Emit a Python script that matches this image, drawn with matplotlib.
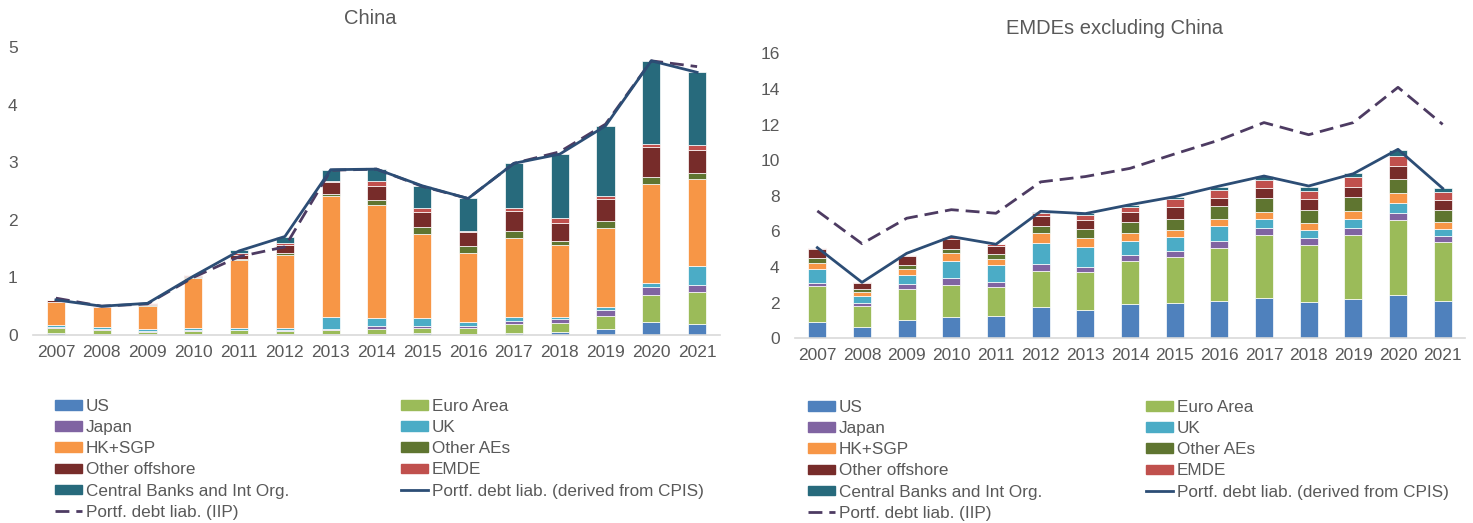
import numpy as np
import matplotlib
matplotlib.use("Agg")
from matplotlib import pyplot as plt
from matplotlib.patches import Patch
from matplotlib.lines import Line2D

plt.rcParams['font.family'] = ['Liberation Sans', 'DejaVu Sans']

years = ['2007', '2008', '2009', '2010', '2011', '2012', '2013', '2014',
         '2015', '2016', '2017', '2018', '2019', '2020', '2021']

# ---- China (USD trn) ----
cn_us   = [0.04, 0.02, 0.01, 0.02, 0.02, 0.01, 0.02, 0.02, 0.04, 0.01, 0.03, 0.05, 0.10, 0.23, 0.19]
cn_ea   = [0.08, 0.07, 0.05, 0.05, 0.06, 0.06, 0.06, 0.08, 0.08, 0.12, 0.16, 0.15, 0.23, 0.46, 0.56]
cn_jp   = [0.02, 0.02, 0.01, 0.01, 0.01, 0.01, 0.02, 0.06, 0.04, 0.03, 0.06, 0.07, 0.10, 0.14, 0.12]
cn_uk   = [0.03, 0.03, 0.04, 0.04, 0.04, 0.04, 0.21, 0.14, 0.14, 0.07, 0.07, 0.05, 0.06, 0.08, 0.32]
cn_hk   = [0.40, 0.34, 0.40, 0.87, 1.17, 1.27, 2.10, 1.96, 1.45, 1.20, 1.37, 1.24, 1.37, 1.72, 1.51]
cn_oae  = [0.01, 0.005, 0.01, 0.01, 0.02, 0.04, 0.04, 0.09, 0.12, 0.11, 0.12, 0.08, 0.12, 0.12, 0.12]
cn_oo   = [0.02, 0.005, 0.02, 0.03, 0.07, 0.13, 0.21, 0.24, 0.26, 0.25, 0.34, 0.31, 0.38, 0.52, 0.40]
cn_emde = [0.01, 0.005, 0.01, 0.01, 0.03, 0.04, 0.01, 0.08, 0.08, 0.02, 0.05, 0.08, 0.05, 0.05, 0.07]
cn_cb   = [0.0, 0.0, 0.0, 0.0, 0.05, 0.10, 0.20, 0.21, 0.38, 0.56, 0.78, 1.11, 1.22, 1.44, 1.27]
cn_cpis = [0.61, 0.50, 0.55, 1.02, 1.46, 1.71, 2.87, 2.88, 2.59, 2.37, 2.98, 3.14, 3.63, 4.76, 4.56]
cn_iip  = [0.64, 0.50, 0.54, 1.00, 1.36, 1.53, 2.86, 2.88, 2.58, 2.37, 2.98, 3.18, 3.66, 4.76, 4.66]

# ---- EMDEs excluding China ----
em_us   = [0.94, 0.65, 1.05, 1.20, 1.27, 1.76, 1.61, 1.93, 2.00, 2.10, 2.28, 2.04, 2.19, 2.45, 2.10]
em_ea   = [2.00, 1.15, 1.70, 1.79, 1.59, 2.04, 2.09, 2.43, 2.55, 2.99, 3.54, 3.22, 3.59, 4.17, 3.33]
em_jp   = [0.18, 0.20, 0.30, 0.42, 0.32, 0.37, 0.32, 0.34, 0.35, 0.39, 0.37, 0.39, 0.41, 0.43, 0.33]
em_uk   = [0.79, 0.38, 0.52, 0.95, 0.94, 1.20, 1.11, 0.75, 0.79, 0.84, 0.49, 0.43, 0.49, 0.57, 0.40]
em_hk   = [0.34, 0.20, 0.32, 0.41, 0.33, 0.54, 0.48, 0.44, 0.39, 0.36, 0.41, 0.38, 0.49, 0.52, 0.37]
em_oae  = [0.28, 0.17, 0.23, 0.26, 0.27, 0.38, 0.51, 0.62, 0.64, 0.73, 0.79, 0.74, 0.78, 0.79, 0.66]
em_oo   = [0.47, 0.34, 0.48, 0.53, 0.46, 0.60, 0.50, 0.60, 0.67, 0.49, 0.58, 0.60, 0.56, 0.76, 0.58]
em_emde = [0.07, 0.07, 0.10, 0.13, 0.10, 0.16, 0.30, 0.28, 0.43, 0.43, 0.43, 0.47, 0.53, 0.56, 0.44]
em_cb   = [0.0, 0.0, 0.0, 0.0, 0.0, 0.06, 0.10, 0.11, 0.13, 0.18, 0.22, 0.24, 0.22, 0.32, 0.21]
em_cpis = [5.09, 3.14, 4.77, 5.71, 5.28, 7.13, 7.00, 7.50, 7.95, 8.55, 9.11, 8.55, 9.24, 10.61, 8.42]
em_iip  = [7.15, 5.31, 6.74, 7.22, 7.02, 8.78, 9.08, 9.54, 10.35, 11.13, 12.11, 11.43, 12.11, 14.09, 12.01]

names = ['US', 'Euro Area', 'Japan', 'UK', 'HK+SGP', 'Other AEs',
         'Other offshore', 'EMDE', 'Central Banks and Int Org.']
colors = ['#4F81BD', '#9BBB59', '#8064A2', '#4BACC6', '#F79646',
          '#5F7530', '#772C2A', '#C0504D', '#276A7C']
cpis_lbl = 'Portf. debt liab. (derived from CPIS)'
iip_lbl = 'Portf. debt liab. (IIP)'
c_cpis = '#2C4D75'
c_iip = '#4D3B62'
grey = '#595959'

W, H = 1473, 523
fig = plt.figure(figsize=(W / 100, H / 100), dpi=100)


def box(x0, y0, x1, y1):
    # pixel box -> figure fraction
    return [x0 / W, 1 - y1 / H, (x1 - x0) / W, (y1 - y0) / H]


def draw(ax, stacks, cpis, iip, ymax, step):
    x = np.arange(len(years))
    bottom = np.zeros(len(years))
    for vals, col in zip(stacks, colors):
        v = np.array(vals)
        ax.bar(x, v, 0.4, bottom=bottom, color=col, edgecolor='white', linewidth=0.5)
        bottom = bottom + v
    ax.plot(x, iip, color=c_iip, lw=2, ls=(0, (5, 2.5)))
    ax.plot(x, cpis, color=c_cpis, lw=2)
    ax.set_xlim(-0.5, len(years) - 0.5)
    ax.set_ylim(0, ymax)
    ax.set_yticks(np.arange(0, ymax + 0.01, step))
    ax.set_xticks(x)
    ax.set_xticklabels(years)
    for s in ['top', 'right', 'left']:
        ax.spines[s].set_visible(False)
    ax.spines['bottom'].set_color('#D9D9D9')
    ax.spines['bottom'].set_linewidth(1.2)
    ax.tick_params(axis='both', length=0, labelsize=12.5, colors=grey)
    ax.tick_params(axis='y', pad=11)
    ax.tick_params(axis='x', pad=7)


def legends(x1, x2, ytop):
    h1 = [Patch(color=colors[i]) for i in (0, 2, 4, 6, 8)]
    h1.append(Line2D([], [], color=c_iip, lw=2, ls=(0, (5, 2.5))))
    l1 = [names[i] for i in (0, 2, 4, 6, 8)] + [iip_lbl]
    h2 = [Patch(color=colors[i]) for i in (1, 3, 5, 7)]
    h2.append(Line2D([], [], color=c_cpis, lw=2))
    l2 = [names[i] for i in (1, 3, 5, 7)] + [cpis_lbl]
    for hh, ll, xx in ((h1, l1, x1), (h2, l2, x2)):
        lg = fig.legend(hh, ll, loc='upper left', bbox_to_anchor=(xx / W, 1 - ytop / H),
                        frameon=False, fontsize=12.3, borderpad=0, borderaxespad=0,
                        handlelength=1.6, handleheight=0.5, handletextpad=0.2,
                        labelspacing=0.36)
        for t in lg.get_texts():
            t.set_color(grey)


ax1 = fig.add_axes(box(33, 47, 720, 335))
draw(ax1, [cn_us, cn_ea, cn_jp, cn_uk, cn_hk, cn_oae, cn_oo, cn_emde, cn_cb],
     cn_cpis, cn_iip, 5, 1)
fig.text(370 / W, 1 - 18 / H, 'China', ha='center', va='center', fontsize=14.5, color=grey)

ax2 = fig.add_axes(box(795, 53.3, 1465, 338.3))
draw(ax2, [em_us, em_ea, em_jp, em_uk, em_hk, em_oae, em_oo, em_emde, em_cb],
     em_cpis, em_iip, 16, 2)
fig.text(1115 / W, 1 - 28 / H, 'EMDEs excluding China', ha='center', va='center',
         fontsize=14.5, color=grey)

legends(55, 401, 399)
legends(808, 1146, 400)

fig.savefig('out.png', dpi=100)
